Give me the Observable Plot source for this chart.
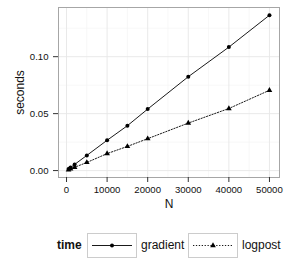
<!DOCTYPE html>
<html>
<head>
<meta charset="utf-8">
<script src="https://cdn.jsdelivr.net/npm/d3@7"></script>
<script src="https://cdn.jsdelivr.net/npm/@observablehq/plot@0.6"></script>
<style>
  html, body { margin: 0; padding: 0; background: white; }
  #wrap { position: relative; width: 300px; height: 273px; font-family: "Liberation Sans", Arial, sans-serif; color: #111; }
  .lg { position: absolute; font-size: 12px; line-height: 12px; }
  .box { position: absolute; box-sizing: border-box; border: 1px solid #cccccc; background: white; }
</style>
</head>
<body>
<div id="wrap"></div>
<script>
const N = [500, 1000, 2000, 5000, 10000, 15000, 20000, 30000, 40000, 50000];
const gradient = [0.0013, 0.0027, 0.0054, 0.0133, 0.0266, 0.0394, 0.0540, 0.0824, 0.1084, 0.1364];
const logpost = [0.0007, 0.0014, 0.0029, 0.0071, 0.0149, 0.0212, 0.0280, 0.0417, 0.0545, 0.0705];
const seriesNames = ["gradient", "logpost"];
const xTicks = [0, 10000, 20000, 30000, 40000, 50000];
const xMinor = [5000, 15000, 25000, 35000, 45000];
const yTicks = [0, 0.05, 0.10];
const yMinor = [0.025, 0.075, 0.125];

const gradData = N.map((n, i) => ({N: n, v: gradient[i], series: seriesNames[0]}));
const logData = N.map((n, i) => ({N: n, v: logpost[i], series: seriesNames[1]}));

const xe = d3.extent(N);
const xd = xe[1] - xe[0];
const ye = d3.extent([...gradient, ...logpost]);
const yd = ye[1] - ye[0];

const font = "'Liberation Sans', Arial, sans-serif";
const rCircle = 2.0, rTri = 2.1;

const chart = Plot.plot({
  width: 300,
  height: 215,
  marginLeft: 58,
  marginRight: 21,
  marginTop: 7,
  marginBottom: 38,
  style: {fontFamily: font, fontSize: "9.6px", color: "#111", background: "white", overflow: "visible"},
  x: {domain: [xe[0] - 0.05 * xd, xe[1] + 0.05 * xd]},
  y: {domain: [ye[0] - 0.05 * yd, ye[1] + 0.05 * yd]},
  marks: [
    Plot.ruleX(xMinor, {stroke: "#f3f3f3", strokeWidth: 0.7}),
    Plot.ruleY(yMinor, {stroke: "#f3f3f3", strokeWidth: 0.7}),
    Plot.ruleX(xTicks, {stroke: "#e6e6e6", strokeWidth: 0.9}),
    Plot.ruleY(yTicks, {stroke: "#e6e6e6", strokeWidth: 0.9}),
    Plot.frame({stroke: "#a6a6a6", strokeWidth: 1}),
    Plot.axisX({ticks: xTicks, tickFormat: d => String(d), tickSize: 5, tickPadding: 4, label: null, stroke: "#333", strokeWidth: 1, fontSize: 9.6}),
    Plot.axisY({ticks: yTicks, tickFormat: d3.format(".2f"), tickSize: 5, tickPadding: 5, label: null, stroke: "#333", strokeWidth: 1, fontSize: 9.6}),
    Plot.line(gradData, {x: "N", y: "v", stroke: "black", strokeWidth: 0.9}),
    Plot.line(logData, {x: "N", y: "v", stroke: "black", strokeWidth: 0.9, strokeDasharray: "1.3,1.6"}),
    Plot.dot(gradData, {x: "N", y: "v", r: rCircle, fill: "black", symbol: "circle"}),
    Plot.dot(logData, {x: "N", y: "v", r: rTri, fill: "black", symbol: "triangle"}),
    Plot.text(["seconds"], {frameAnchor: "left", dx: -38, rotate: -90, fontSize: 12, textAnchor: "middle", lineAnchor: "middle", fill: "#111"}),
    Plot.text(["N"], {frameAnchor: "bottom", dy: 26.5, fontSize: 12, textAnchor: "middle", lineAnchor: "middle", fill: "#111"})
  ]
});

const wrap = document.getElementById("wrap");
chart.style.position = "absolute";
chart.style.left = "0px";
chart.style.top = "0px";
wrap.appendChild(chart);

function addText(txt, left, bold) {
  const d = document.createElement("div");
  d.className = "lg";
  d.textContent = txt;
  d.style.left = left + "px";
  d.style.top = "239px";
  if (bold) d.style.fontWeight = "bold";
  wrap.appendChild(d);
}
function addKey(left, dashed, symbol, r) {
  const b = document.createElement("div");
  b.className = "box";
  b.style.left = left + "px";
  b.style.top = "233px";
  b.style.width = "50px";
  b.style.height = "25px";
  const ns = "http://www.w3.org/2000/svg";
  const s = document.createElementNS(ns, "svg");
  s.setAttribute("width", "48");
  s.setAttribute("height", "23");
  s.style.display = "block";
  const l = document.createElementNS(ns, "line");
  l.setAttribute("x1", "4"); l.setAttribute("x2", "44");
  l.setAttribute("y1", "11.5"); l.setAttribute("y2", "11.5");
  l.setAttribute("stroke", "black"); l.setAttribute("stroke-width", "0.9");
  if (dashed) l.setAttribute("stroke-dasharray", "1.3,1.6");
  s.appendChild(l);
  const p = document.createElementNS(ns, "path");
  p.setAttribute("d", d3.symbol(symbol, Math.PI * r * r)());
  p.setAttribute("transform", "translate(24,11.5)");
  p.setAttribute("fill", "black");
  s.appendChild(p);
  b.appendChild(s);
  wrap.appendChild(b);
}
addText("time", 57, true);
addKey(87, false, d3.symbolCircle, rCircle);
addText(seriesNames[0], 141, false);
addKey(188, true, d3.symbolTriangle, rTri);
addText(seriesNames[1], 242, false);
</script>
</body>
</html>
